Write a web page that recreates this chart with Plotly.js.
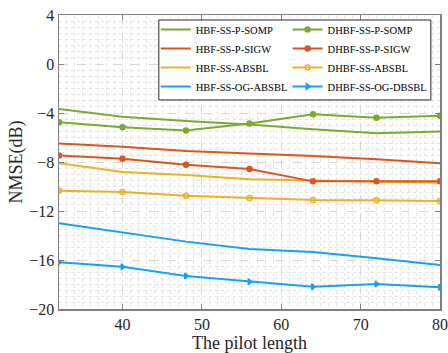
<!DOCTYPE html>
<html><head><meta charset="utf-8">
<script src="https://cdn.plot.ly/plotly-3.0.1.min.js"></script>
<style>html,body{margin:0;padding:0;background:#fff}#chart{width:448px;height:353px}</style>
</head><body><div id="chart"></div>
<script>
const pilot = [32, 40, 48, 56, 64, 72, 80];
const names = ['HBF-SS-P-SOMP','HBF-SS-P-SIGW','HBF-SS-ABSBL','HBF-SS-OG-ABSBL',
               'DHBF-SS-P-SOMP','DHBF-SS-P-SIGW','DHBF-SS-ABSBL','DHBF-SS-OG-DBSBL'];
const hbfSomp   = [-3.67, -4.30, -4.65, -4.93, -5.33, -5.66, -5.52];
const hbfSigw   = [-6.48, -6.75, -7.10, -7.29, -7.51, -7.78, -8.10];
const hbfAbsbl  = [-8.10, -8.82, -9.06, -9.41, -9.50, -9.60, -9.69];
const hbfOg     = [-13.0, -13.77, -14.50, -15.10, -15.35, -15.86, -16.41];
const dhbfSomp  = [-4.76, -5.17, -5.42, -4.85, -4.10, -4.38, -4.22];
const dhbfSigw  = [-7.46, -7.73, -8.22, -8.57, -9.58, -9.58, -9.58];
const dhbfAbsbl = [-10.34, -10.45, -10.75, -10.94, -11.10, -11.13, -11.18];
const dhbfOg    = [-16.19, -16.55, -17.31, -17.77, -18.18, -17.96, -18.23];

const colors = ['#77AC30', '#E0541C', '#EFB120', '#12A4F2'];
const symbols = ['circle', 'circle', 'circle-open', 'triangle-right'];
const hbf = [hbfSomp, hbfSigw, hbfAbsbl, hbfOg];
const dhbf = [dhbfSomp, dhbfSigw, dhbfAbsbl, dhbfOg];

const traces = [];
hbf.forEach((ys, i) => traces.push({
  x: pilot, y: ys, name: names[i], type: 'scatter', mode: 'lines',
  line: {color: colors[i], width: 2}, legend: 'legend'
}));
dhbf.forEach((ys, i) => traces.push({
  x: pilot, y: ys, name: names[4 + i], type: 'scatter', mode: 'lines+markers',
  line: {color: colors[i], width: 2},
  marker: {symbol: symbols[i], size: 5, color: colors[i], line: {color: colors[i], width: 1.5}},
  legend: 'legend2'
}));

const fnt = {family: '"Liberation Serif", "Times New Roman", serif', size: 16, color: '#262626'};
const legFont = {family: '"Liberation Serif", "Times New Roman", serif', size: 10.5, color: '#000'};

const layout = {
  width: 448, height: 353,
  margin: {l: 59, r: 8, t: 15, b: 44},
  paper_bgcolor: '#fff', plot_bgcolor: '#fff',
  font: fnt,
  showlegend: true,
  xaxis: {
    range: [32, 80], tickvals: [40, 50, 60, 70, 80], ticks: 'inside', ticklen: 5,
    tickcolor: '#808080', showline: true, linecolor: '#808080', linewidth: 1.5, mirror: 'ticks',
    showgrid: true, gridcolor: '#d8d8d8', griddash: 'dash', gridwidth: 1, zeroline: false,
    minor: {dtick: 1, showgrid: true, gridcolor: '#e4e4e4', griddash: 'dot', gridwidth: 1, ticks: ''},
    title: {text: 'The pilot length', font: {size: 18}, standoff: 7},
    tickfont: fnt
  },
  yaxis: {
    range: [-20, 4], dtick: 4, tick0: 0, ticks: 'inside', ticklen: 5,
    tickcolor: '#808080', showline: true, linecolor: '#808080', linewidth: 1.5, mirror: 'ticks',
    showgrid: true, gridcolor: '#d8d8d8', griddash: 'dash', gridwidth: 1, zeroline: false,
    minor: {dtick: 0.5, showgrid: true, gridcolor: '#e4e4e4', griddash: 'dot', gridwidth: 1, ticks: ''},
    title: {text: 'NMSE(dB)', font: {size: 18}, standoff: 2},
    tickfont: fnt
  },
  legend: {x: 0.254, y: 1.0, xanchor: 'left', yanchor: 'top', bgcolor: 'rgba(0,0,0,0)',
           borderwidth: 0, font: legFont, tracegroupgap: 0},
  legend2: {x: 0.600, y: 1.0, xanchor: 'left', yanchor: 'top', bgcolor: 'rgba(0,0,0,0)',
            borderwidth: 0, font: legFont, tracegroupgap: 0},
  shapes: [{type: 'rect', xref: 'paper', yref: 'paper', x0: 0.262, x1: 0.976, y0: 0.711, y1: 0.983,
            line: {color: '#262626', width: 1}, fillcolor: '#fff', layer: 'above'}]
};
Plotly.newPlot('chart', traces, layout, {displayModeBar: false, staticPlot: true});
</script></body></html>
